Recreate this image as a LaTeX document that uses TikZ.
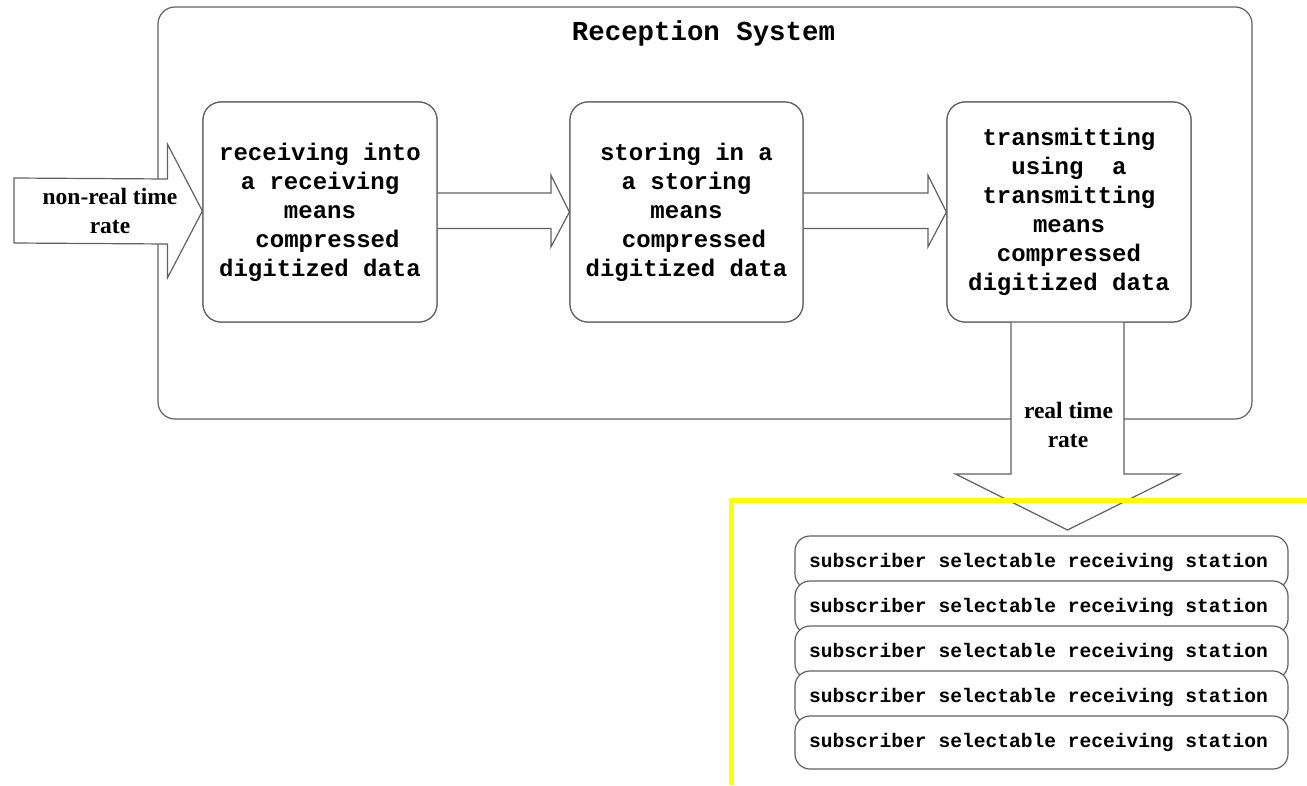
\documentclass[tikz,border=0pt]{standalone}
\usepackage{fontspec}
\newfontfamily\courfont{Liberation Mono}
\newfontfamily\timesfont{Liberation Serif}
\usetikzlibrary{calc}
\definecolor{linegray}{RGB}{96,96,96}
\definecolor{hiyellow}{RGB}{255,255,0}
\begin{document}
\begin{tikzpicture}[x=1pt,y=-1pt,
  outline/.style={draw=linegray, line width=1.2pt},
  sysbox/.style={outline, rounded corners=17pt, minimum width=1094pt, minimum height=412pt, inner sep=0pt},
  procbox/.style={outline, fill=white, rounded corners=18pt, minimum height=220pt, inner sep=0pt, align=center,
     font=\courfont\bfseries\fontsize{24}{29}\selectfont},
  stationbox/.style={outline, fill=white, rounded corners=15pt, minimum width=493pt, minimum height=53pt, inner sep=0pt,
     font=\courfont\bfseries\fontsize{19.6}{24}\selectfont},
  blockarrow/.style={outline, fill=white, line join=miter},
  ratelabel/.style={align=center, font=\timesfont\bfseries\fontsize{23.5}{29.5}\selectfont, inner sep=0pt},
  titlelabel/.style={font=\courfont\bfseries\fontsize{27.4}{32}\selectfont, inner sep=0pt},
  yellowline/.style={draw=hiyellow, line width=5pt}
]
\useasboundingbox (0,0) rectangle (1307,785);

% system frame
\node[sysbox] (sys) at (705,213) {};
\node[titlelabel, anchor=base] (title) at (703.5,40) {Reception System};

% input arrow
\coordinate (inL) at (14,211);
\coordinate (dtop) at (1067.5,321);
\coordinate (dtip) at (1067.5,530);

% process boxes (positions)
\path (320,212) coordinate (c1) (686.5,212) coordinate (c2) (1069,212) coordinate (c3);

\node[procbox, minimum width=234pt] (b1) at (c1) {};
\node[procbox, minimum width=233pt] (b2) at (c2) {};
\node[procbox, minimum width=244pt] (b3) at (c3) {};

% arrows
\filldraw[blockarrow] ($(inL)+(0,-33)$) -- ($(b1.west)+(-35,-33)$) -- ($(b1.west)+(-35,-68)$) -- ($(b1.west)+(0,-1)$)
   -- ($(b1.west)+(-35,66)$) -- ($(b1.west)+(-35,32)$) -- ($(inL)+(0,32)$) -- cycle;
\filldraw[blockarrow] ($(b1.east)+(0,-19)$) -- ($(b2.west)+(-18.5,-19)$) -- ($(b2.west)+(-18.5,-37)$) -- (b2.west)
   -- ($(b2.west)+(-18.5,35)$) -- ($(b2.west)+(-18.5,16.5)$) -- ($(b1.east)+(0,16.5)$);
\filldraw[blockarrow] ($(b2.east)+(0,-19)$) -- ($(b3.west)+(-18.5,-19)$) -- ($(b3.west)+(-18.5,-37)$) -- (b3.west)
   -- ($(b3.west)+(-18.5,35)$) -- ($(b3.west)+(-18.5,16.5)$) -- ($(b2.east)+(0,16.5)$);
\filldraw[blockarrow] ($(dtop)+(-56.5,0)$) -- ($(dtop)+(-56.5,153)$) -- ($(dtop)+(-112,153)$) -- (dtip)
   -- ($(dtop)+(112.5,153)$) -- ($(dtop)+(56.5,153)$) -- ($(dtop)+(56.5,0)$);

% boxes redrawn on top with text
\node[procbox, minimum width=234pt] (b1t) at (c1) {receiving into\\a receiving\hspace*{13pt}\\means\hspace*{22pt}\\\hspace*{15pt}compressed\\digitized data};
\node[procbox, minimum width=233pt] (b2t) at (c2) {storing in a\\a storing\hspace*{10pt}\\means\hspace*{5pt}\\\hspace*{15pt}compressed\\digitized data};
\node[procbox, minimum width=244pt] (b3t) at (c3) {transmitting\\using\ \ a\\transmitting\\means\hspace*{5pt}\\compressed\hspace*{12pt}\\digitized data};

% arrow labels
\node[ratelabel] (nrt) at (110,211) {non-real time\\rate};
\node[ratelabel, anchor=base] (rt1) at (1068.5,418) {real time};
\node[ratelabel, anchor=base] (rt2) at (1068,447) {rate};

% yellow line
\coordinate (ya) at (731.5,785);
\coordinate (yb) at (731.5,500.5);
\coordinate (yc) at (1307,500.5);
\draw[yellowline] (ya) -- (yb) -- (yc);

% stations
\foreach \i/\y in {1/562.5,2/607.5,3/652.5,4/697.5,5/742.5}{
  \node[stationbox] (s\i) at (1041.5,\y) {subscriber selectable receiving station\hspace*{6pt}};
}
\end{tikzpicture}
\end{document}
